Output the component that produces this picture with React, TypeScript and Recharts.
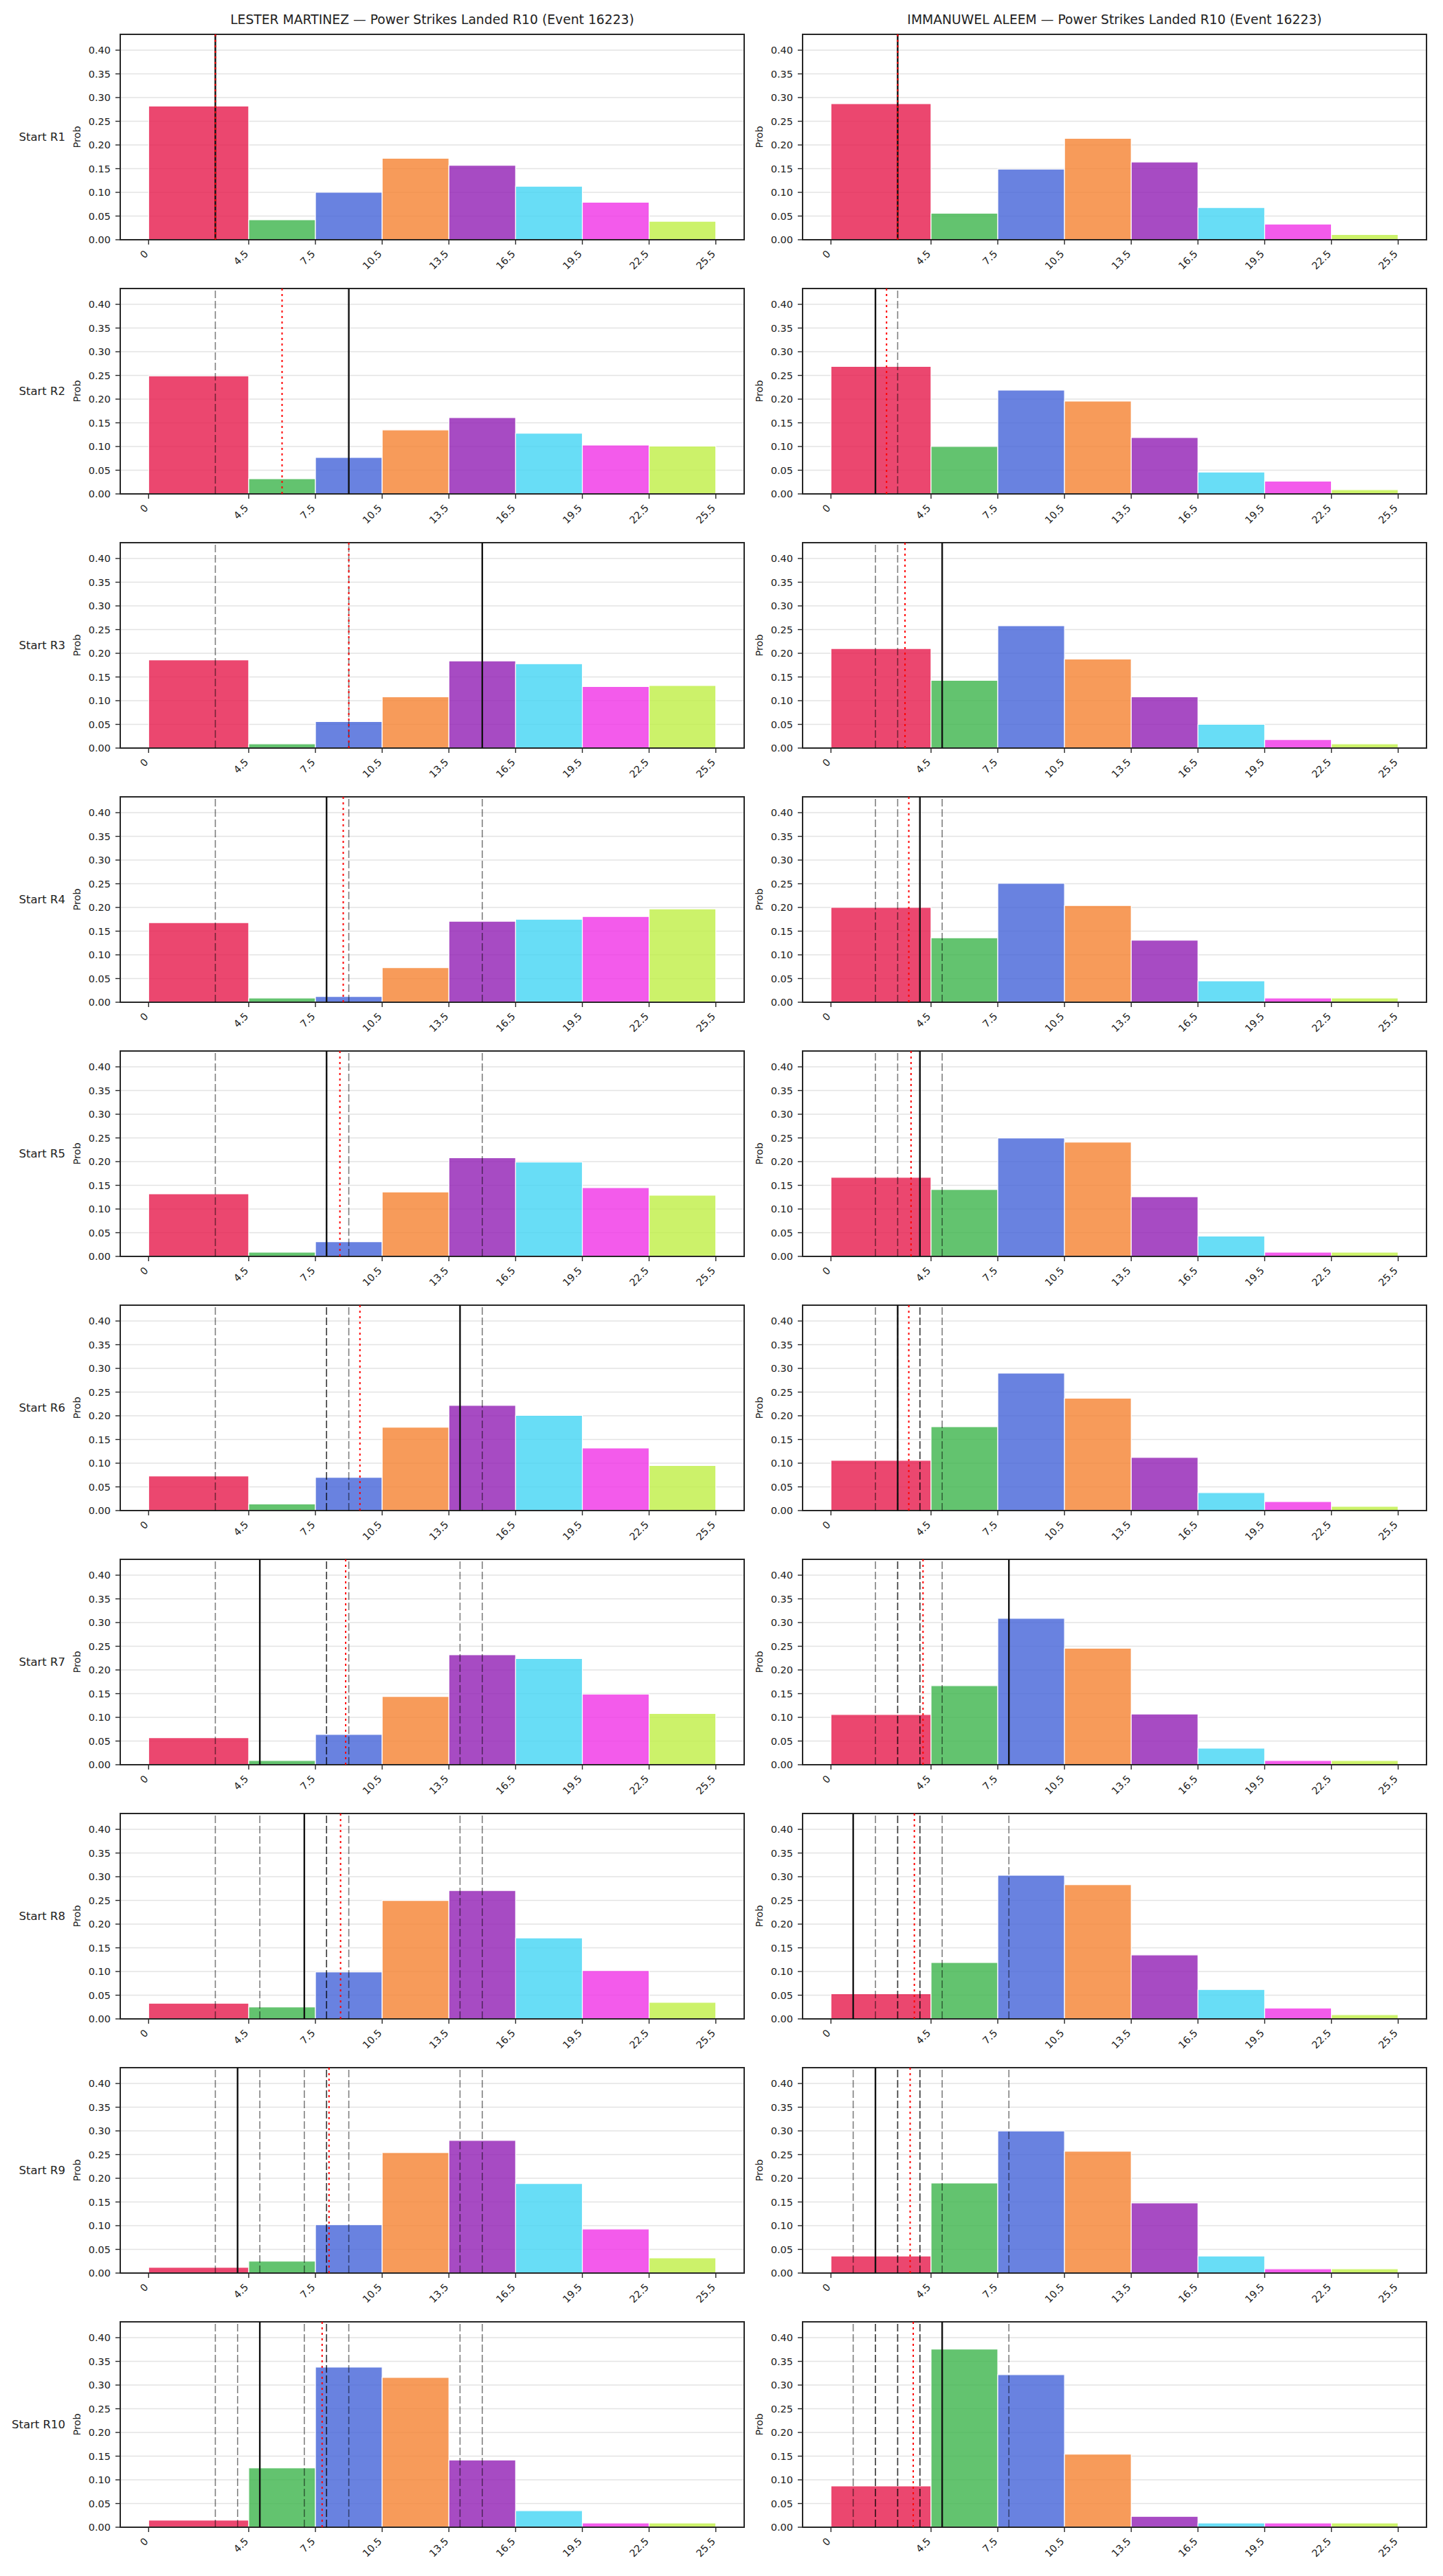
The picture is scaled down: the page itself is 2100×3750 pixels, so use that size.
import {
  ComposedChart,
  XAxis,
  YAxis,
  CartesianGrid,
  ReferenceArea,
  ReferenceLine,
} from "recharts";

const FIGHTERS = ["LESTER MARTINEZ", "IMMANUWEL ALEEM"];
const START_ROUNDS = ["R1", "R2", "R3", "R4", "R5", "R6", "R7", "R8", "R9", "R10"];

// histogram bin edges (first bin 0-4.5, then 3-wide bins)
const BIN_EDGES = [0, 4.5, 7.5, 10.5, 13.5, 16.5, 19.5, 22.5, 25.5];
const BIN_COLORS = [
  "#e6194b",
  "#3cb44b",
  "#4363d8",
  "#f58231",
  "#911eb4",
  "#42d4f4",
  "#f032e6",
  "#bfef45",
];
const X_TICKS = [0, 4.5, 7.5, 10.5, 13.5, 16.5, 19.5, 22.5, 25.5];
const Y_TICKS = [0, 0.05, 0.1, 0.15, 0.2, 0.25, 0.3, 0.35, 0.4];

// probability per bin, one row per "Start Rn"
const martinezProbs = [
  [0.282, 0.042, 0.1, 0.172, 0.157, 0.113, 0.079, 0.039],
  [0.249, 0.032, 0.077, 0.135, 0.161, 0.128, 0.103, 0.101],
  [0.186, 0.009, 0.056, 0.108, 0.184, 0.178, 0.13, 0.132],
  [0.168, 0.009, 0.012, 0.073, 0.171, 0.175, 0.181, 0.197],
  [0.132, 0.009, 0.031, 0.136, 0.208, 0.199, 0.145, 0.129],
  [0.073, 0.014, 0.07, 0.176, 0.222, 0.201, 0.132, 0.095],
  [0.057, 0.009, 0.064, 0.144, 0.232, 0.224, 0.149, 0.108],
  [0.033, 0.025, 0.099, 0.25, 0.271, 0.171, 0.102, 0.035],
  [0.012, 0.025, 0.102, 0.254, 0.28, 0.189, 0.093, 0.032],
  [0.015, 0.125, 0.338, 0.316, 0.142, 0.035, 0.009, 0.009],
];
const aleemProbs = [
  [0.287, 0.056, 0.149, 0.214, 0.164, 0.068, 0.033, 0.011],
  [0.269, 0.1, 0.219, 0.196, 0.119, 0.046, 0.027, 0.009],
  [0.21, 0.143, 0.258, 0.188, 0.108, 0.05, 0.018, 0.009],
  [0.2, 0.136, 0.251, 0.204, 0.131, 0.045, 0.009, 0.009],
  [0.167, 0.141, 0.25, 0.241, 0.126, 0.043, 0.009, 0.009],
  [0.106, 0.177, 0.29, 0.237, 0.112, 0.038, 0.019, 0.009],
  [0.106, 0.167, 0.309, 0.246, 0.107, 0.035, 0.009, 0.009],
  [0.053, 0.119, 0.303, 0.283, 0.135, 0.062, 0.023, 0.009],
  [0.036, 0.19, 0.3, 0.257, 0.148, 0.036, 0.009, 0.009],
  [0.087, 0.376, 0.322, 0.154, 0.023, 0.009, 0.009, 0.009],
];

// solid line per row (earlier rows' values reappear dashed), red dotted line per row
const martinezActual = [3, 9, 15, 8, 8, 14, 5, 7, 4, 5];
const martinezMean = [3.0, 6.0, 9.0, 8.75, 8.6, 9.5, 8.86, 8.63, 8.11, 7.8];
const aleemActual = [3, 2, 5, 4, 4, 3, 8, 1, 2, 5];
const aleemMean = [3.0, 2.5, 3.33, 3.5, 3.6, 3.5, 4.14, 3.75, 3.56, 3.7];

const X_DOMAIN: [number, number] = [-1.275, 26.775];
const Y_DOMAIN: [number, number] = [0, 0.4334];

const FONT = "DejaVu Sans";
const INK = "#222";

// layout (px)
const COL_X = [175, 1168];
const AX_W = 908;
const AX_H = 299;
const ROW_Y0 = 50;
const ROW_STEP = 370;
const ML = 175;
const MR = 12;
const MT = 10;
const XAH = 70;
const YAW = 60;

function XTick(props: any) {
  const { x, y, payload } = props;
  const ax = x - 7;
  const ay = y + 5;
  return (
    <text
      x={ax}
      y={ay}
      transform={`rotate(-45 ${ax} ${ay})`}
      textAnchor="end"
      dominantBaseline="hanging"
      fontSize={14.5}
      fontFamily={FONT}
      fill={INK}
    >
      {String(payload.value)}
    </text>
  );
}

const axisLabel = (rowLabel?: string) => (props: any) => {
  const { x, y, width, height } = props.viewBox;
  const left = x + width;
  const cy = y + height / 2;
  return (
    <g>
      <text
        x={left - 63}
        y={cy}
        transform={`rotate(-90 ${left - 63} ${cy})`}
        textAnchor="middle"
        dominantBaseline="central"
        fontSize={14.5}
        fontFamily={FONT}
        fill={INK}
      >
        Prob
      </text>
      {rowLabel && (
        <text
          x={left - 80}
          y={cy}
          textAnchor="end"
          dominantBaseline="central"
          fontSize={16.5}
          fontFamily={FONT}
          fill={INK}
        >
          {rowLabel}
        </text>
      )}
    </g>
  );
};

interface PanelProps {
  probs: number[];
  actual: number;
  previous: number[];
  mean: number;
  rowLabel?: string;
  left: number;
  top: number;
}

function Panel({ probs, actual, previous, mean, rowLabel, left, top }: PanelProps) {
  const bins = probs.map((p, i) => ({
    x1: BIN_EDGES[i],
    x2: BIN_EDGES[i + 1],
    prob: p,
    color: BIN_COLORS[i],
  }));
  return (
    <div style={{ position: "absolute", left: left - ML, top: top - MT }}>
      <ComposedChart
        width={ML + AX_W + MR}
        height={MT + AX_H + XAH + 4}
        data={bins}
        margin={{ top: MT, right: MR, bottom: 4, left: ML - YAW }}
      >
        <CartesianGrid vertical={false} stroke="#e3e3e3" strokeWidth={1.4} />
        <XAxis
          type="number"
          dataKey="x1"
          domain={X_DOMAIN}
          allowDataOverflow
          ticks={X_TICKS}
          interval={0}
          height={XAH}
          tick={<XTick />}
          tickSize={7}
          tickLine={{ stroke: "#262626", strokeWidth: 1.4 }}
          axisLine={false}
        />
        <YAxis
          type="number"
          domain={Y_DOMAIN}
          allowDataOverflow
          ticks={Y_TICKS}
          interval={0}
          width={YAW}
          tickSize={7}
          tickMargin={7}
          tickFormatter={(v: number) => v.toFixed(2)}
          tick={{ fontSize: 14.5, fontFamily: FONT, fill: INK }}
          tickLine={{ stroke: "#262626", strokeWidth: 1.4 }}
          axisLine={false}
          label={axisLabel(rowLabel)}
        />
        {bins.map((b, i) => (
          <ReferenceArea
            key={`bin-${i}`}
            x1={b.x1}
            x2={b.x2}
            y1={0}
            y2={b.prob}
            fill={b.color}
            fillOpacity={0.8}
            stroke="#ffffff"
            strokeWidth={1.2}
          />
        ))}
        {previous.map((v, i) => (
          <ReferenceLine
            key={`prev-${i}`}
            x={v}
            stroke="#000"
            strokeOpacity={0.5}
            strokeWidth={1.6}
            strokeDasharray="11 4"
          />
        ))}
        <ReferenceLine x={actual} stroke="#111" strokeWidth={2.4} />
        <ReferenceLine x={mean} stroke="#ff0000" strokeWidth={2} strokeDasharray="3 5" />
        <ReferenceArea
          x1={X_DOMAIN[0]}
          x2={X_DOMAIN[1]}
          y1={Y_DOMAIN[0]}
          y2={Y_DOMAIN[1]}
          fill="none"
          stroke="#262626"
          strokeWidth={2}
          ifOverflow="visible"
        />
      </ComposedChart>
    </div>
  );
}

export default function App() {
  const columns = [
    { probs: martinezProbs, actual: martinezActual, mean: martinezMean },
    { probs: aleemProbs, actual: aleemActual, mean: aleemMean },
  ];
  return (
    <div
      style={{
        position: "absolute",
        left: 0,
        top: 0,
        width: 2100,
        height: 3750,
        background: "#fff",
        fontFamily: FONT,
      }}
    >
      {FIGHTERS.map((name, c) => (
        <div
          key={`title-${c}`}
          style={{
            position: "absolute",
            left: COL_X[c],
            top: 20,
            width: AX_W,
            textAlign: "center",
            fontSize: 18.75,
            lineHeight: "18.75px",
            color: INK,
            whiteSpace: "nowrap",
          }}
        >
          {name} — Power Strikes Landed R10 (Event 16223)
        </div>
      ))}
      {START_ROUNDS.map((r, i) =>
        columns.map((col, c) => (
          <Panel
            key={`${r}-${c}`}
            probs={col.probs[i]}
            actual={col.actual[i]}
            previous={col.actual.slice(0, i)}
            mean={col.mean[i]}
            rowLabel={c === 0 ? `Start ${r}` : undefined}
            left={COL_X[c]}
            top={ROW_Y0 + ROW_STEP * i}
          />
        ))
      )}
    </div>
  );
}
